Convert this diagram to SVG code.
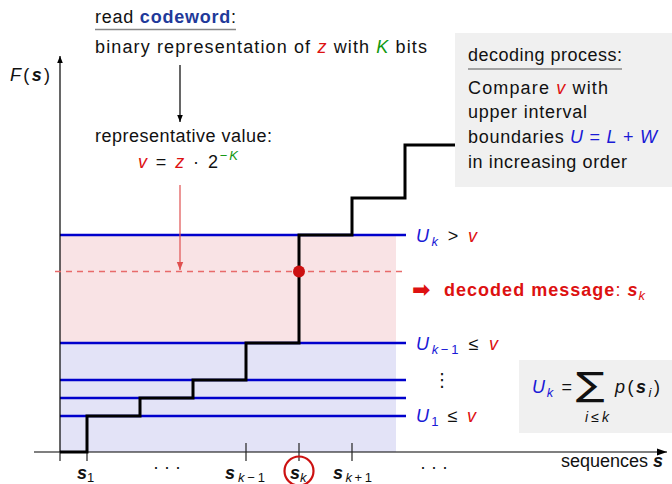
<svg xmlns="http://www.w3.org/2000/svg" width="672" height="484" viewBox="0 0 672 484">
<defs>
<style>
text{font-family:"Liberation Sans","DejaVu Sans",sans-serif;font-size:18px;fill:#111}
.it{font-style:italic}
.red{fill:#dd1111}
.blue{fill:#1a1ad6}
.green{fill:#119911}
.b{font-weight:bold}
.sub{font-size:13px}
.ul{stroke:#888;stroke-width:1.5}
.ublue{stroke:#0000cc;stroke-width:2.6}
.stair{fill:none;stroke:#000;stroke-width:3;stroke-linejoin:miter}
.tick{stroke:#222;stroke-width:1.2}
</style>
<marker id="ah" viewBox="0 0 10 10" refX="10" refY="5" markerWidth="7" markerHeight="7" orient="auto-start-reverse" markerUnits="userSpaceOnUse">
<path d="M0,1 L10,5 L0,9 Z" fill="#000"/>
</marker>
<marker id="ahr" viewBox="0 0 10 10" refX="10" refY="5" markerWidth="8" markerHeight="8" orient="auto" markerUnits="userSpaceOnUse">
<path d="M0,1 L10,5 L0,9 Z" fill="#e05050"/>
</marker>
<marker id="ahx" viewBox="0 0 10 10" refX="10" refY="5" markerWidth="12" markerHeight="10" orient="auto" markerUnits="userSpaceOnUse">
<path d="M0,1.5 L10,5 L0,8.5 Z" fill="#000"/>
</marker>
</defs>

<g id="regions">
<rect x="60" y="235" width="336" height="108" fill="#f9e3e5"/>
<rect x="60" y="343" width="336" height="109" fill="#e3e3f7"/>
</g>

<g id="boundaries">
<line class="ublue" x1="60" y1="235" x2="406" y2="235"/>
<line class="ublue" x1="60" y1="343" x2="406" y2="343"/>
<line class="ublue" x1="60" y1="380" x2="406" y2="380"/>
<line class="ublue" x1="60" y1="398" x2="406" y2="398"/>
<line class="ublue" x1="60" y1="416" x2="406" y2="416"/>
</g>

<g id="axes">
<line x1="60" y1="452" x2="60" y2="56" stroke="#000" stroke-width="1.2" marker-end="url(#ah)"/>
<line x1="34" y1="452" x2="667" y2="452" stroke="#000" stroke-width="1.2" marker-end="url(#ahx)"/>
<line class="tick" x1="60" y1="452" x2="60" y2="461"/>
<line class="tick" x1="87" y1="452" x2="87" y2="461"/>
<line class="tick" x1="246" y1="443" x2="246" y2="461"/>
<line class="tick" x1="299" y1="443" x2="299" y2="461"/>
<line class="tick" x1="352" y1="443" x2="352" y2="461"/>
<text x="10" y="81" textLength="40"><tspan class="it">F</tspan>(<tspan class="it b">s</tspan>)</text>
</g>

<g id="staircase">
<path class="stair" d="M60,452 H87 V416 H140 V398 H193 V380 H246 V343 H299 V235 H352 V198 H405 V145 H456"/>
</g>

<g id="connectors">
<line x1="180" y1="65" x2="180" y2="122" stroke="#000" stroke-width="1.2" marker-end="url(#ah)"/>
<line x1="180" y1="185" x2="180" y2="270" stroke="#e05050" stroke-width="1.2" marker-end="url(#ahr)"/>
<line x1="55" y1="271.5" x2="403" y2="271.5" stroke="#e86a6a" stroke-width="1.4" stroke-dasharray="6,5"/>
<circle cx="299" cy="271.5" r="6" fill="#cc1111"/>
</g>

<g id="codeword">
<text x="95" y="23" textLength="141">read <tspan class="b" fill="#1f3a9a">codeword</tspan>:</text>
<line class="ul" x1="95" y1="29.5" x2="236" y2="29.5"/>
<text x="95" y="53" textLength="332">binary representation of <tspan class="it red">z</tspan> with <tspan class="it green">K</tspan> bits</text>
</g>

<g id="representative">
<text x="95" y="142" textLength="177">representative value:</text>
<text x="138" y="168" textLength="100"><tspan class="it red">v</tspan> = <tspan class="it red">z</tspan> · 2<tspan class="green sub" dy="-8">−<tspan class="it">K</tspan></tspan></text>
</g>

<g id="decoding-process">
<rect x="455" y="33" width="217" height="154" fill="#f0f0f0"/>
<text x="468" y="61" textLength="154">decoding process:</text>
<line class="ul" x1="468" y1="69" x2="622" y2="69"/>
<text x="468" y="94" textLength="140">Compare <tspan class="it red">v</tspan> with</text>
<text x="468" y="118" textLength="119">upper interval</text>
<text x="468" y="143" textLength="189">boundaries <tspan class="it blue">U</tspan><tspan class="blue"> = </tspan><tspan class="it blue">L</tspan><tspan class="blue"> + </tspan><tspan class="it blue">W</tspan></text>
<text x="468" y="168" textLength="159">in increasing order</text>
</g>

<g id="labels">
<text x="416" y="242" textLength="61"><tspan class="it blue">U</tspan><tspan class="it blue sub" dy="4">k</tspan><tspan dy="-4"> &gt; </tspan><tspan class="it red">v</tspan></text>
<text x="412" y="297" class="red" style="font-family:'DejaVu Sans',sans-serif;font-size:22px;font-weight:bold"><tspan class="red">➡</tspan></text>
<text x="444" y="296" class="red" textLength="201"><tspan class="b red">decoded message</tspan>: <tspan class="it b red">s</tspan><tspan class="it red sub" dy="4">k</tspan></text>
<text x="416" y="350" textLength="82"><tspan class="it blue">U</tspan><tspan class="blue sub" dy="4"><tspan class="it">k</tspan>−1</tspan><tspan dy="-4"> ≤ </tspan><tspan class="it red">v</tspan></text>
<text x="433" y="386">⋮</text>
<text x="416" y="422" textLength="60"><tspan class="it blue">U</tspan><tspan class="blue sub" dy="4">1</tspan><tspan dy="-4"> ≤ </tspan><tspan class="it red">v</tspan></text>
</g>

<g id="formula">
<rect x="519" y="360" width="153" height="73" fill="#f0f0f0"/>
<text x="532" y="393" textLength="40"><tspan class="it blue">U</tspan><tspan class="it blue sub" dy="4">k</tspan><tspan dy="-4"> = </tspan></text>
<text x="0" y="0" style="font-family:'DejaVu Sans',sans-serif;font-size:33px" transform="translate(576,396) scale(1.3,1)">∑</text>
<text x="585" y="422" style="font-size:14px" textLength="24"><tspan class="it">i</tspan>≤<tspan class="it">k</tspan></text>
<text x="615" y="393" textLength="45"><tspan class="it">p</tspan>(<tspan class="it b">s</tspan><tspan class="it sub" dy="4">i</tspan><tspan dy="-4">)</tspan></text>
</g>

<g id="xlabels">
<text x="77" y="479"><tspan class="it b">s</tspan><tspan class="sub" dy="3">1</tspan></text>
<text x="153" y="473">· · ·</text>
<text x="225" y="479" textLength="40"><tspan class="it b">s</tspan><tspan class="sub" dy="3"><tspan class="it">k</tspan>−1</tspan></text>
<circle cx="299" cy="471" r="14.5" fill="none" stroke="#cc1111" stroke-width="2.2"/>
<text x="290" y="479"><tspan class="it b">s</tspan><tspan class="it sub" dy="3">k</tspan></text>
<text x="333" y="479" textLength="39"><tspan class="it b">s</tspan><tspan class="sub" dy="3"><tspan class="it">k</tspan>+1</tspan></text>
<text x="420" y="473">· · ·</text>
<text x="561" y="467" textLength="102">sequences <tspan class="it b">s</tspan></text>
</g>
</svg>
